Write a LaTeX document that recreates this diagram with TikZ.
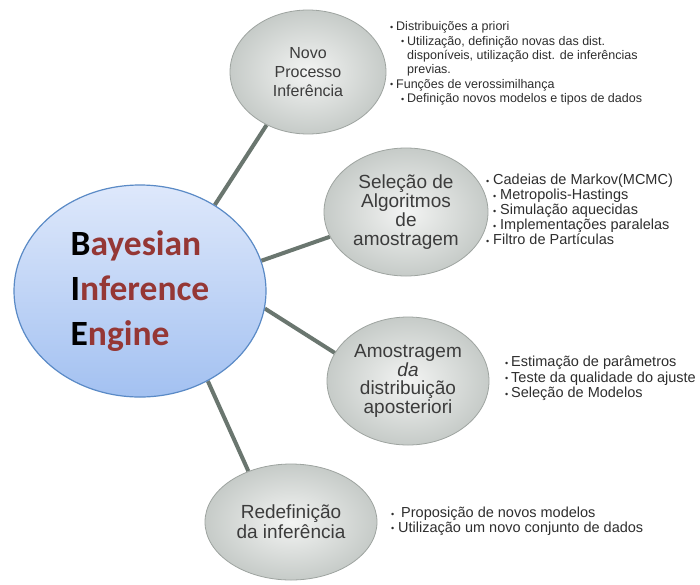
\documentclass[tikz,border=0pt]{standalone}
\usepackage{fontspec}
\setmainfont{Liberation Sans}
\newfontfamily\calfont{Carlito}
\usetikzlibrary{shapes.geometric,backgrounds}

\definecolor{linkgray}{HTML}{6A766F}
\definecolor{bubblein}{HTML}{F3F4F3}
\definecolor{bubbleout}{HTML}{C6CBC8}
\definecolor{bubbleedge}{HTML}{9EA4A0}
\definecolor{labelgray}{HTML}{3C3C3C}
\definecolor{notegray}{HTML}{2E2E2E}
\definecolor{enginetop}{HTML}{DEE8FB}
\definecolor{enginebot}{HTML}{A3C1F1}
\definecolor{engineedge}{HTML}{5A8AC6}
\definecolor{enginered}{HTML}{953735}

\tikzset{
  bubble/.style={ellipse, inner sep=0pt, draw=bubbleedge, line width=0.8pt,
    inner color=bubblein, outer color=bubbleout, text=labelgray, align=center},
  link/.style={draw=linkgray, line width=4pt},
  notes/.style={anchor=north west, inner sep=0pt, align=left, text=notegray}
}
\newcommand{\bul}[1][6pt]{\makebox[#1][l]{\fontsize{9}{9}\selectfont\raisebox{0.6pt}{•}}}

\begin{document}
\begin{tikzpicture}[x=1pt,y=-1pt]
   \useasboundingbox (0,0) rectangle (700,584);
   % engine and the four steps
   \node[ellipse, minimum width=252pt, minimum height=212pt, inner sep=0pt,
         draw=engineedge, line width=1.2pt, top color=enginetop, bottom color=enginebot,
         align=left, text=enginered, font=\calfont\bfseries\fontsize{35.5}{45}\selectfont]
         (engine) at (140,291) {\textcolor{black}{B}ayesian\\ \textcolor{black}{I}nference\\ \textcolor{black}{E}ngine};
   \node[bubble, minimum width=156pt, minimum height=124pt, font=\fontsize{16}{19}\selectfont]
         (novo) at (308,72) {Novo\\Processo\\Inferência};
   \node[bubble, minimum width=164pt, minimum height=128pt, font=\fontsize{19}{19}\selectfont]
         (selecao) at (406,212) {Seleção de\\Algoritmos\\de\\amostragem};
   \node[bubble, minimum width=162pt, minimum height=128pt, font=\fontsize{19}{18.5}\selectfont]
         (amostra) at (408,381) {Amostragem\\\textit{da}\\distribuição\\aposteriori};
   \node[bubble, minimum width=172pt, minimum height=116pt, font=\fontsize{19}{20}\selectfont]
         (redef) at (291,522) {Redefinição\\da inferência};
   \begin{pgfonlayer}{background}
      \fill[white] (0,0) rectangle (700,584);
      \draw[link] (engine.49) -- (novo.232);
      \draw[link] (engine.14) -- (selecao.198);
      \draw[link] (engine.352) -- (amostra.159);
      \draw[link] (engine.307) -- (redef.130);
   \end{pgfonlayer}
   % notes beside each step
   \node[notes, font=\fontsize{12.5}{14.4}\selectfont] (notasnovo) at (390,21.5)
         {\bul Distribuições a priori\\
          \hspace*{11pt}\bul Utilização, definição novas das dist.\\
          \hspace*{17pt}disponíveis, utilização dist. de inferências\\
          \hspace*{17pt}previas.\\
          \bul Funções de verossimilhança\\
          \hspace*{11pt}\bul Definição novos modelos e tipos de dados};
   \node[notes, font=\fontsize{14.5}{15}\selectfont] (notassel) at (486,174)
         {\bul[7pt]Cadeias de Markov(MCMC)\\
          \hspace*{7pt}\bul[7pt]Metropolis-Hastings\\
          \hspace*{7pt}\bul[7pt]Simulação aquecidas\\
          \hspace*{7pt}\bul[7pt]Implementações paralelas\\
          \bul[7pt]Filtro de Partículas};
   \node[notes, font=\fontsize{14.5}{15.5}\selectfont] (notasamo) at (505,356)
         {\bul Estimação de parâmetros\\
          \bul Teste da qualidade do ajuste\\
          \bul Seleção de Modelos};
   \node[notes, font=\fontsize{14.5}{14.5}\selectfont] (notasred) at (391,507)
         {\bul[10pt]Proposição de novos modelos\\
          \bul[7pt]Utilização um novo conjunto de dados};
\end{tikzpicture}
\end{document}
